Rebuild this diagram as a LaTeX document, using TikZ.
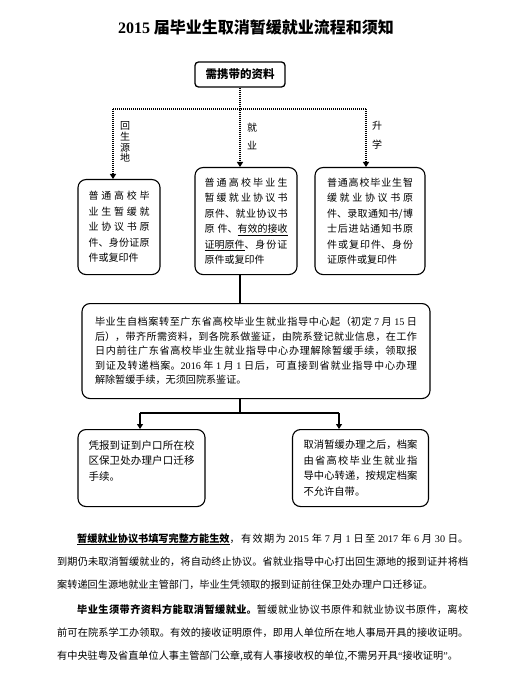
\documentclass[tikz,border=0pt]{standalone}
\usepackage{fontspec}
\setmainfont{Noto Sans CJK SC}
\newfontfamily\latinfont{Liberation Serif}
\usetikzlibrary{arrows.meta,positioning}
\XeTeXlinebreaklocale "zh"
\XeTeXlinebreakskip=0pt plus 3pt
\setlength\parindent{0pt}
\newcommand\cjkbr{\linebreak}
\newcommand\shuzi[1]{{\latinfont #1}}
\tikzset{
  needbox/.style={draw,line width=1.3pt,rounded corners=3.5pt,minimum width=90pt,minimum height=25pt,inner sep=0pt,font=\fontsize{11.5}{13}\selectfont\bfseries},
  stepbox/.style={draw,line width=1.1pt,rounded corners=8pt,align=justify,inner ysep=0pt,anchor=north},
  branchlabel/.style={align=center,inner sep=0pt},
  dotline/.style={line width=1.2pt,dash pattern=on 1pt off 1pt},
  dotarrow/.style={-{Triangle[length=5pt,width=6pt]},line width=1.2pt,dash pattern=on 1pt off 1pt},
  solidline/.style={line width=1.1pt},
  arrow/.style={-{Triangle[length=5pt,width=6pt]},line width=1.1pt},
  noteblock/.style={anchor=north west,inner sep=0pt,text width=411pt,align=justify,font=\fontsize{10.16}{23}\selectfont}
}

\begin{document}
\begin{tikzpicture}[x=1pt,y=-1pt]
\useasboundingbox (0,0) rectangle (504,700);
\node[font=\fontsize{16}{18}\selectfont\bfseries] (title) at (256,27) {\shuzi{2015} 届毕业生取消暂缓就业流程和须知};
\node[needbox] (need) at (240,74.5) {需携带的资料};
% three kinds of graduates
\node[stepbox,text width=61pt,inner xsep=10.5pt,minimum height=95pt,font=\fontsize{10}{15.5}\selectfont] (huisheng) at (119,179)
  {普通高校毕\cjkbr 业生暂缓就\cjkbr 业协议书原\cjkbr 件、身份证原\cjkbr 件或复印件};
\node[stepbox,text width=83pt,inner xsep=9.5pt,minimum height=107pt,font=\fontsize{10}{15.5}\selectfont] (jiuye) at (246,167)
  {普通高校毕业生\cjkbr 暂缓就业协议书\cjkbr 原件、就业协议书\cjkbr 原件、\underline{有效的接收}\cjkbr \underline{证明原件}、身份证\cjkbr 原件或复印件};
\node[stepbox,text width=86pt,inner xsep=12pt,minimum height=107pt,font=\fontsize{10}{15.5}\selectfont] (shengxue) at (370,167)
  {普通高校毕业生智\cjkbr 缓就业协议书原\cjkbr 件、录取通知书/博\cjkbr 士后进站通知书原\cjkbr 件或复印件、身份\cjkbr 证原件或复印件};
\node[branchlabel,font=\fontsize{10}{10.7}\selectfont] (lblhui) at (125,142) {回\\生\\源\\地};
\node[branchlabel,font=\fontsize{10}{18}\selectfont] (lbljiu) at (252,136) {就\\业};
\node[branchlabel,font=\fontsize{10}{19}\selectfont] (lblsheng) at (377,135.5) {升\\学};
% main step
\node[stepbox,text width=322pt,inner xsep=13pt,minimum height=95pt,font=\fontsize{10.1}{14.5}\selectfont] (jiechu) at (256,303)
  {毕业生自档案转至广东省高校毕业生就业指导中心起（初定 \shuzi{7} 月 \shuzi{15} 日\cjkbr 后），带齐所需资料，到各院系做鉴证，由院系登记就业信息，在工作\cjkbr 日内前往广东省高校毕业生就业指导中心办理解除暂缓手续，领取报\cjkbr 到证及转递档案。\shuzi{2016} 年 \shuzi{1} 月 \shuzi{1} 日后，可直接到省就业指导中心办理\cjkbr 解除暂缓手续，无须回院系鉴证。};
\node[stepbox,text width=106pt,inner xsep=10.5pt,minimum height=77pt,font=\fontsize{10.5}{15.5}\selectfont] (hukou) at (141.5,429)
  {凭报到证到户口所在校\cjkbr 区保卫处办理户口迁移\cjkbr 手续。\par\mbox{}};
\node[stepbox,text width=114pt,inner xsep=11pt,minimum height=77pt,font=\fontsize{10.3}{15.5}\selectfont] (dangan) at (360.5,429)
  {取消暂缓办理之后，档案\cjkbr 由省高校毕业生就业指\cjkbr 导中心转递，按规定档案\cjkbr 不允许自带。};
% connectors
\coordinate (lturn) at (113,109);
\coordinate (rturn) at (366,109);
\coordinate (fork) at (240,413);
\coordinate (lfork) at (140,413);
\coordinate (rfork) at (339,413);
\draw[dotline] (lturn) -- (rturn);
\draw[dotarrow] (need.south) -- (need.south |- jiuye.north);
\draw[dotarrow] (lturn) -- (lturn |- huisheng.north);
\draw[dotarrow] (rturn) -- (rturn |- shengxue.north);
\draw[solidline] (need.south |- jiuye.south) -- (need.south |- jiechu.north);
\draw[solidline] (need.south |- jiechu.south) -- (fork);
\draw[solidline] (lfork) -- (rfork);
\draw[arrow] (lfork) -- (lfork |- hukou.north);
\draw[arrow] (rfork) -- (rfork |- dangan.north);
% notes
\node[noteblock] (note1) at (57,533)
  {\hspace*{20pt}\underline{\bfseries 暂缓就业协议书填写完整方能生效}，有效期为 \shuzi{2015} 年 \shuzi{7} 月 \shuzi{1} 日至 \shuzi{2017} 年 \shuzi{6} 月 \shuzi{30} 日。\cjkbr 到期仍未取消暂缓就业的，将自动终止协议。省就业指导中心打出回生源地的报到证并将档\cjkbr 案转递回生源地就业主管部门，毕业生凭领取的报到证前往保卫处办理户口迁移证。};
\node[noteblock] (note2) at (57,604)
  {\hspace*{20pt}{\bfseries 毕业生须带齐资料方能取消暂缓就业。}暂缓就业协议书原件和就业协议书原件，离校\cjkbr 前可在院系学工办领取。有效的接收证明原件，即用人单位所在地人事局开具的接收证明。\cjkbr 有中央驻粤及省直单位人事主管部门公章,或有人事接收权的单位,不需另开具{\latinfont “}接收证明{\latinfont ”}。};
\end{tikzpicture}
\end{document}
